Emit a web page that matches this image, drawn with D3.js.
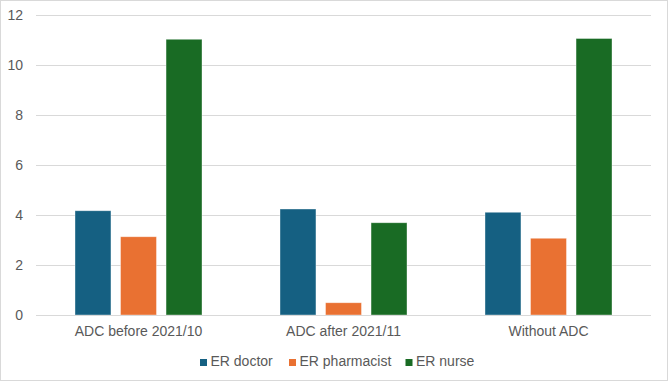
<!DOCTYPE html>
<html>
<head>
<meta charset="utf-8">
<script src="https://cdn.jsdelivr.net/npm/d3@7"></script>
<style>
  html, body { margin: 0; padding: 0; background: #fff; }
  svg { display: block; font-family: "Liberation Sans", Arial, sans-serif; }
</style>
</head>
<body>
<svg id="chart" width="669" height="382"></svg>
<script>
const categories = ["ADC before 2021/10", "ADC after 2021/11", "Without ADC"];
const seriesNames = ["ER doctor", "ER pharmacist", "ER nurse"];
const erDoctor = [4.17, 4.24, 4.11];
const erPharmacist = [3.13, 0.49, 3.07];
const erNurse = [11.03, 3.69, 11.06];
const seriesColors = ["#156082", "#E97132", "#196B24"];
const yTicks = [0, 2, 4, 6, 8, 10, 12];

const seriesValues = [erDoctor, erPharmacist, erNurse];
const data = categories.map((c, i) => ({
  cat: c,
  vals: seriesNames.map((s, j) => ({ key: s, value: seriesValues[j][i], color: seriesColors[j] }))
}));

const svg = d3.select("#chart");
const W = 669, H = 382;
const plot = { left: 36, right: 651, top: 15, bottom: 315 };

// outer border
svg.append("rect").attr("x", 0.5).attr("y", 0.5).attr("width", W - 2).attr("height", H - 2)
  .attr("fill", "#fff").attr("stroke", "#d9d9d9").attr("stroke-width", 1);

const y = d3.scaleLinear().domain([0, 12]).range([plot.bottom, plot.top]);
const x0 = d3.scaleBand().domain(categories).range([plot.left, plot.right]).padding(0);
const groupW = 127;
const bw = x0.bandwidth();
const x1 = d3.scaleBand().domain(seriesNames)
  .range([(bw - groupW) / 2, (bw + groupW) / 2]).paddingInner(0.21).paddingOuter(0);

// gridlines
const yAxis = d3.axisLeft(y).tickValues(yTicks).tickSize(-(plot.right - plot.left)).tickFormat(d3.format("d"));
const gy = svg.append("g").attr("transform", `translate(${plot.left},0)`).call(yAxis);
gy.select(".domain").remove();
gy.selectAll(".tick line").attr("stroke", "#d9d9d9").attr("stroke-width", 1)
  .attr("shape-rendering", "crispEdges");
gy.selectAll(".tick text").attr("x", -13).attr("fill", "#595959")
  .style("font-size", "14px").style("font-family", "'Liberation Sans', Arial, sans-serif");

// bars
const groups = svg.append("g").selectAll("g").data(data).join("g")
  .attr("transform", d => `translate(${x0(d.cat)},0)`);
groups.selectAll("rect").data(d => d.vals).join("rect")
  .attr("x", d => x1(d.key))
  .attr("width", x1.bandwidth())
  .attr("y", d => y(d.value))
  .attr("height", d => y(0) - y(d.value))
  .attr("fill", d => d.color)
  .attr("stroke", "#ffffff").attr("stroke-opacity", 0.5).attr("stroke-width", 0.75);

// baseline
svg.append("line").attr("x1", plot.left).attr("x2", plot.right)
  .attr("y1", y(0)).attr("y2", y(0)).attr("stroke", "#d9d9d9").attr("shape-rendering", "crispEdges");

// x axis labels
const xAxis = d3.axisBottom(x0).tickSize(0).tickPadding(0);
const gx = svg.append("g").attr("transform", `translate(0,${plot.bottom})`).call(xAxis);
gx.select(".domain").remove();
gx.selectAll(".tick text").attr("y", 21).attr("dy", 0).attr("fill", "#595959")
  .style("font-size", "14px").style("font-family", "'Liberation Sans', Arial, sans-serif");

// legend
const legendItems = [
  { name: seriesNames[0], color: seriesColors[0], x: 200 },
  { name: seriesNames[1], color: seriesColors[1], x: 289 },
  { name: seriesNames[2], color: seriesColors[2], x: 405.5 }
];
const lg = svg.append("g").selectAll("g").data(legendItems).join("g")
  .attr("transform", d => `translate(${d.x},0)`);
lg.append("rect").attr("x", 0).attr("y", 359).attr("width", 7).attr("height", 7).attr("fill", d => d.color);
lg.append("text").attr("x", 10.5).attr("y", 366).text(d => d.name)
  .attr("fill", "#595959").style("font-size", "14px");
</script>
</body>
</html>
